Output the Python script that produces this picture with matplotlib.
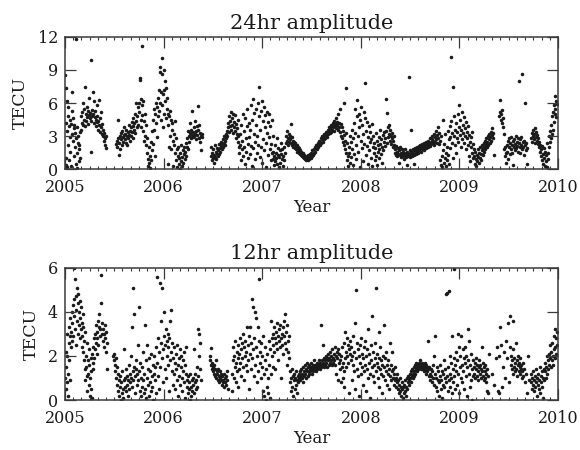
import matplotlib
matplotlib.use("Agg")
import matplotlib.pyplot as plt
from matplotlib.ticker import MultipleLocator

# 24hr amplitude (TECU) vs decimal year
t24 = [
    2005.003, 2005.006, 2005.008, 2005.012, 2005.015, 2005.018, 2005.022, 2005.025, 2005.028, 2005.032,
    2005.035, 2005.04, 2005.043, 2005.047, 2005.05, 2005.055, 2005.06, 2005.064, 2005.068, 2005.072,
    2005.076, 2005.08, 2005.084, 2005.088, 2005.092, 2005.095, 2005.1, 2005.104, 2005.108, 2005.11,
    2005.114, 2005.118, 2005.122, 2005.126, 2005.13, 2005.134, 2005.138, 2005.142, 2005.146, 2005.15,
    2005.154,
    2005.16, 2005.165, 2005.17, 2005.175, 2005.18, 2005.185, 2005.19, 2005.195, 2005.2, 2005.205,
    2005.21, 2005.215, 2005.22, 2005.225, 2005.23, 2005.235, 2005.24, 2005.245, 2005.25, 2005.255,
    2005.26, 2005.262, 2005.265, 2005.27, 2005.275, 2005.28, 2005.285, 2005.29, 2005.295, 2005.3,
    2005.305, 2005.31, 2005.315, 2005.32, 2005.325, 2005.33, 2005.335, 2005.34, 2005.345, 2005.35,
    2005.355, 2005.36, 2005.365, 2005.37, 2005.375, 2005.38, 2005.385, 2005.39, 2005.395, 2005.4,
    2005.405, 2005.41, 2005.415, 2005.42,
    2005.52, 2005.525, 2005.53, 2005.535, 2005.54, 2005.545, 2005.55, 2005.555, 2005.56, 2005.565,
    2005.57, 2005.575, 2005.58, 2005.585, 2005.59, 2005.595, 2005.6, 2005.605, 2005.61, 2005.615,
    2005.62, 2005.625, 2005.63, 2005.635, 2005.64, 2005.645, 2005.65, 2005.655, 2005.66, 2005.665,
    2005.67, 2005.675, 2005.68, 2005.685, 2005.69, 2005.695, 2005.7, 2005.705, 2005.71, 2005.715,
    2005.72, 2005.725, 2005.73, 2005.735, 2005.74, 2005.745,
    2005.75, 2005.755, 2005.76, 2005.763, 2005.767, 2005.77, 2005.775, 2005.777, 2005.78, 2005.785,
    2005.79, 2005.795, 2005.8, 2005.805, 2005.81, 2005.815, 2005.82, 2005.825, 2005.83, 2005.835,
    2005.84, 2005.845, 2005.85, 2005.855, 2005.86, 2005.865, 2005.87, 2005.875, 2005.88, 2005.885,
    2005.89, 2005.895, 2005.9, 2005.905, 2005.91, 2005.915, 2005.92, 2005.925, 2005.93, 2005.935,
    2005.94, 2005.945, 2005.95, 2005.955, 2005.96, 2005.963, 2005.967, 2005.97, 2005.975, 2005.98,
    2005.983, 2005.987, 2005.99, 2005.995, 2006.0, 2006.003, 2006.007, 2006.01, 2006.015, 2006.02,
    2006.025, 2006.03, 2006.035, 2006.04, 2006.045, 2006.05, 2006.055, 2006.06, 2006.065, 2006.07,
    2006.075, 2006.08, 2006.085, 2006.09, 2006.095, 2006.1, 2006.105, 2006.11, 2006.115, 2006.12,
    2006.125,
    2006.13, 2006.135, 2006.14, 2006.145, 2006.15, 2006.155, 2006.16, 2006.165, 2006.17, 2006.175,
    2006.18, 2006.185, 2006.19, 2006.195, 2006.2, 2006.205, 2006.21, 2006.215, 2006.22, 2006.225,
    2006.23, 2006.235, 2006.24, 2006.245, 2006.25, 2006.255, 2006.26, 2006.265, 2006.27, 2006.275,
    2006.28, 2006.285, 2006.29, 2006.295, 2006.3, 2006.305, 2006.31, 2006.315, 2006.32, 2006.325,
    2006.33, 2006.335, 2006.34, 2006.345, 2006.35, 2006.355, 2006.36, 2006.365, 2006.37, 2006.375,
    2006.38, 2006.385, 2006.39,
    2006.48, 2006.485, 2006.49, 2006.495, 2006.5, 2006.505, 2006.51, 2006.515, 2006.52, 2006.525,
    2006.53, 2006.535, 2006.54, 2006.545, 2006.55, 2006.555, 2006.56, 2006.565, 2006.57, 2006.575,
    2006.58, 2006.585, 2006.59, 2006.595, 2006.6, 2006.605, 2006.61, 2006.615, 2006.62, 2006.625,
    2006.63, 2006.635, 2006.64, 2006.645, 2006.65,
    2006.655, 2006.66, 2006.665, 2006.67, 2006.675, 2006.68, 2006.685, 2006.69, 2006.695, 2006.7,
    2006.705, 2006.71, 2006.715, 2006.72, 2006.725, 2006.73, 2006.735, 2006.74, 2006.745, 2006.75,
    2006.755, 2006.76, 2006.765,
    2006.77, 2006.775, 2006.78, 2006.785, 2006.79, 2006.795, 2006.8, 2006.805, 2006.81, 2006.815,
    2006.82, 2006.825, 2006.83, 2006.835, 2006.84, 2006.845, 2006.85, 2006.855, 2006.86, 2006.865,
    2006.87, 2006.875, 2006.88, 2006.885, 2006.89, 2006.895, 2006.9, 2006.905, 2006.91, 2006.915,
    2006.92, 2006.925, 2006.93, 2006.935, 2006.94, 2006.945, 2006.95, 2006.955, 2006.96, 2006.965,
    2006.97, 2006.975, 2006.98, 2006.985, 2006.99, 2006.995, 2007.0, 2007.005, 2007.01, 2007.015,
    2007.02, 2007.025, 2007.03, 2007.035, 2007.04, 2007.045, 2007.05, 2007.055, 2007.06, 2007.065,
    2007.07, 2007.075, 2007.08, 2007.085, 2007.09, 2007.095, 2007.1, 2007.105,
    2007.11, 2007.115, 2007.12, 2007.125, 2007.13, 2007.135, 2007.14, 2007.145, 2007.15, 2007.155,
    2007.16, 2007.165, 2007.17, 2007.175, 2007.18, 2007.185, 2007.19, 2007.195, 2007.2, 2007.205,
    2007.21, 2007.215, 2007.22, 2007.225, 2007.23,
    2007.24, 2007.245, 2007.25, 2007.255, 2007.26, 2007.265, 2007.27, 2007.275, 2007.28, 2007.285,
    2007.29, 2007.295, 2007.3, 2007.305, 2007.31, 2007.315, 2007.32, 2007.325, 2007.33, 2007.335,
    2007.34, 2007.345, 2007.35, 2007.355, 2007.36, 2007.365, 2007.37, 2007.375, 2007.38, 2007.385,
    2007.39, 2007.395, 2007.4, 2007.405, 2007.41, 2007.415, 2007.42, 2007.425, 2007.43, 2007.435,
    2007.44, 2007.445, 2007.45, 2007.455, 2007.46, 2007.465, 2007.47, 2007.475, 2007.48, 2007.485,
    2007.49,
    2007.495, 2007.5, 2007.505, 2007.51, 2007.515, 2007.52, 2007.525, 2007.53, 2007.535, 2007.54,
    2007.545, 2007.55, 2007.555, 2007.56, 2007.565, 2007.57, 2007.575, 2007.58, 2007.585, 2007.59,
    2007.595, 2007.6, 2007.605, 2007.61, 2007.615, 2007.62, 2007.625, 2007.63, 2007.635, 2007.64,
    2007.645, 2007.65, 2007.655, 2007.66, 2007.665, 2007.67, 2007.675, 2007.68, 2007.685, 2007.69,
    2007.695, 2007.7, 2007.705, 2007.71, 2007.715, 2007.72, 2007.725, 2007.73, 2007.735, 2007.74,
    2007.745, 2007.75, 2007.755, 2007.76, 2007.765, 2007.77, 2007.775, 2007.78, 2007.785, 2007.79,
    2007.795, 2007.8, 2007.805, 2007.81, 2007.815, 2007.82, 2007.825, 2007.83, 2007.835, 2007.84,
    2007.845, 2007.85, 2007.852,
    2007.855, 2007.86, 2007.865, 2007.87, 2007.875, 2007.88, 2007.885, 2007.89, 2007.895, 2007.9,
    2007.905, 2007.91, 2007.915, 2007.92, 2007.925, 2007.93, 2007.935, 2007.94, 2007.945, 2007.95,
    2007.955, 2007.96, 2007.965, 2007.97, 2007.975, 2007.98, 2007.985, 2007.99, 2007.995, 2008.0,
    2008.005, 2008.01, 2008.015, 2008.02, 2008.025, 2008.03, 2008.035, 2008.04, 2008.045, 2008.05,
    2008.055, 2008.06, 2008.065, 2008.07, 2008.075, 2008.08, 2008.085, 2008.09, 2008.095, 2008.1,
    2008.105, 2008.11, 2008.115, 2008.12, 2008.125, 2008.13, 2008.135, 2008.14, 2008.145, 2008.15,
    2008.155, 2008.16, 2008.165, 2008.17, 2008.175, 2008.18, 2008.185, 2008.19, 2008.195, 2008.2,
    2008.205, 2008.21, 2008.215, 2008.22, 2008.225, 2008.23, 2008.235, 2008.24, 2008.245, 2008.25,
    2008.255, 2008.26, 2008.265, 2008.27, 2008.275, 2008.28, 2008.285, 2008.29, 2008.295, 2008.3,
    2008.305, 2008.31, 2008.315, 2008.32, 2008.325, 2008.33, 2008.335, 2008.34, 2008.345,
    2008.35, 2008.355, 2008.36, 2008.365, 2008.37, 2008.375, 2008.38, 2008.385, 2008.39, 2008.395,
    2008.4, 2008.405, 2008.41, 2008.415, 2008.42, 2008.425, 2008.43, 2008.435, 2008.44, 2008.445,
    2008.45, 2008.455, 2008.46, 2008.465, 2008.47, 2008.475, 2008.48, 2008.485, 2008.49, 2008.495,
    2008.5, 2008.505, 2008.51, 2008.515, 2008.52, 2008.525, 2008.53, 2008.535, 2008.54, 2008.545,
    2008.55, 2008.555, 2008.56, 2008.565, 2008.57, 2008.575, 2008.58, 2008.585, 2008.59, 2008.595,
    2008.6, 2008.605, 2008.61, 2008.615, 2008.62, 2008.625, 2008.63, 2008.635, 2008.64, 2008.645,
    2008.65, 2008.655, 2008.66, 2008.665, 2008.67, 2008.675, 2008.68, 2008.685, 2008.69, 2008.695,
    2008.7, 2008.705, 2008.71, 2008.715, 2008.72, 2008.725, 2008.73, 2008.735, 2008.74, 2008.745,
    2008.75, 2008.755, 2008.76, 2008.765, 2008.77, 2008.775, 2008.78, 2008.785, 2008.79, 2008.795,
    2008.8, 2008.805, 2008.81, 2008.815, 2008.82, 2008.825, 2008.83, 2008.835, 2008.84, 2008.845,
    2008.85, 2008.855, 2008.86, 2008.865, 2008.87, 2008.875, 2008.88, 2008.885, 2008.89, 2008.895,
    2008.9, 2008.905, 2008.91, 2008.915, 2008.92, 2008.925, 2008.93, 2008.935, 2008.94, 2008.945,
    2008.95, 2008.955, 2008.96, 2008.965, 2008.97, 2008.975, 2008.98, 2008.985, 2008.99, 2008.995,
    2009.0, 2009.005, 2009.01, 2009.015, 2009.02, 2009.025, 2009.03, 2009.035, 2009.04, 2009.045,
    2009.05, 2009.055, 2009.06, 2009.065, 2009.07, 2009.075, 2009.08, 2009.085, 2009.09, 2009.095,
    2009.1, 2009.105, 2009.11, 2009.115, 2009.12, 2009.125, 2009.13, 2009.135, 2009.14, 2009.145,
    2009.15, 2009.155, 2009.16, 2009.165, 2009.17, 2009.175, 2009.18, 2009.185, 2009.19, 2009.195,
    2009.2, 2009.205, 2009.21, 2009.215, 2009.22, 2009.225, 2009.23, 2009.235, 2009.24, 2009.245,
    2009.25, 2009.255, 2009.26, 2009.265, 2009.27, 2009.275, 2009.28, 2009.285, 2009.29, 2009.295,
    2009.3, 2009.305, 2009.31, 2009.315, 2009.32, 2009.325, 2009.33, 2009.335, 2009.34, 2009.345,
    2009.35,
    2009.4, 2009.41, 2009.415, 2009.42, 2009.425, 2009.43, 2009.435, 2009.44, 2009.445, 2009.45,
    2009.455, 2009.46, 2009.465, 2009.47, 2009.475,
    2009.48, 2009.485, 2009.49, 2009.495, 2009.5, 2009.505, 2009.51, 2009.515, 2009.52, 2009.525,
    2009.53, 2009.535, 2009.54, 2009.545, 2009.55, 2009.555, 2009.56, 2009.565, 2009.57, 2009.575,
    2009.58, 2009.585, 2009.59, 2009.595, 2009.6, 2009.605, 2009.61, 2009.615, 2009.62, 2009.625,
    2009.63, 2009.635, 2009.64, 2009.645, 2009.65, 2009.655, 2009.66, 2009.665, 2009.67, 2009.675,
    2009.68, 2009.685, 2009.69,
    2009.73, 2009.735, 2009.74, 2009.745, 2009.75, 2009.755, 2009.76, 2009.765, 2009.77, 2009.775,
    2009.78, 2009.785, 2009.79, 2009.795, 2009.8, 2009.805, 2009.81, 2009.815,
    2009.82, 2009.825, 2009.83, 2009.835, 2009.84, 2009.845, 2009.85, 2009.855, 2009.86, 2009.865,
    2009.87, 2009.875, 2009.88, 2009.885, 2009.89, 2009.895, 2009.9, 2009.905, 2009.91, 2009.915,
    2009.92, 2009.925, 2009.93, 2009.935, 2009.94, 2009.945, 2009.95, 2009.955, 2009.96, 2009.965,
    2009.97, 2009.975, 2009.98, 2009.985, 2009.99,
]
a24 = [
    8.5, 7.4, 0.4, 4.2, 1.0, 6.2, 3.5, 0.2, 4.8, 2.2,
    5.6, 0.8, 3.9, 1.6, 4.5, 2.9, 0.3, 4.1, 3.2, 7.0,
    5.3, 2.6, 4.6, 1.2, 3.7, 4.0, 2.0, 3.3, 11.8, 0.5,
    2.8, 3.8, 1.5, 0.1, 2.4, 3.0, 1.8, 0.7, 2.2, 3.4,
    1.0,
    3.6, 4.8, 4.2, 5.2, 4.0, 6.0, 4.5, 5.5, 3.9, 7.5,
    4.4, 5.0, 4.7, 5.6, 4.1, 5.3, 4.9, 6.5, 4.6, 5.1,
    9.9, 1.6, 4.4, 5.4, 4.8, 7.0, 5.0, 4.2, 6.2, 4.7,
    5.3, 4.5, 3.9, 5.8, 4.3, 4.8, 3.6, 4.4, 6.3, 4.0,
    3.4, 4.6, 3.8, 5.2, 3.2, 4.1, 3.0, 3.6, 2.6, 3.3,
    2.8, 2.2, 3.0, 1.9,
    2.3, 2.6, 2.0, 4.5, 2.8, 1.3, 2.4, 3.0, 1.8, 2.7,
    3.3, 2.2, 3.5, 2.9, 2.5, 3.1, 3.8, 2.7, 3.2, 2.4,
    3.6, 3.0, 2.2, 3.4, 2.8, 4.0, 3.1, 2.6, 3.5, 3.8,
    3.0, 4.3, 3.4, 2.8, 3.9, 4.6, 3.6, 4.2, 5.0, 3.3,
    4.4, 6.0, 3.8, 4.8, 5.6, 4.0,
    5.2, 6.0, 8.3, 8.1, 4.5, 6.4, 3.8, 11.2, 5.8, 4.9,
    6.2, 3.5, 4.4, 2.6, 5.0, 3.0, 2.2, 4.0, 1.5, 2.8,
    0.9, 0.3, 2.0, 0.6, 1.2, 0.1, 2.5, 0.8, 3.5, 1.7,
    4.5, 2.3, 5.5, 3.6, 5.0, 1.2, 6.0, 4.2, 5.6, 2.9,
    6.5, 4.8, 7.2, 5.3, 8.8, 6.0, 9.3, 4.5, 7.0, 10.1,
    5.8, 8.6, 6.8, 3.8, 9.0, 7.2, 5.0, 8.0, 6.2, 7.4,
    4.6, 5.5, 6.5, 0.5, 5.0, 4.0, 4.8, 2.0, 5.3, 3.0,
    4.5, 1.8, 3.6, 4.2, 2.6, 0.3, 3.2, 2.2, 4.4, 1.5,
    2.8,
    0.8, 1.8, 0.2, 1.2, 2.0, 0.5, 1.0, 0.0, 1.5, 0.7,
    2.2, 0.3, 1.1, 1.7, 0.6, 1.4, 2.0, 0.9, 1.6, 2.4,
    1.2, 2.8, 2.0, 3.5, 1.8, 3.0, 2.5, 4.2, 3.3, 2.8,
    3.6, 3.1, 5.3, 2.9, 3.4, 3.8, 3.0, 4.4, 3.2, 2.7,
    3.5, 3.9, 3.1, 5.7, 3.6, 2.8, 4.0, 3.3, 2.5, 3.0,
    1.7, 3.2, 2.9,
    1.2, 2.0, 0.8, 1.5, 1.0, 1.8, 0.6, 1.3, 2.2, 1.1,
    1.6, 0.9, 1.4, 1.9, 1.2, 1.7, 2.3, 1.4, 1.9, 1.6,
    2.1, 2.5, 1.8, 2.3, 2.0, 2.7, 2.4, 3.0, 2.6, 2.2,
    3.2, 2.8, 3.5, 3.0, 3.8,
    4.2, 3.4, 4.8, 3.9, 4.4, 5.2, 3.6, 4.6, 4.0, 5.0,
    3.3, 4.3, 3.8, 4.9, 3.5, 4.1, 2.8, 3.7, 3.2, 4.5,
    2.5, 3.0, 2.0,
    1.5, 3.2, 2.2, 0.8, 4.0, 1.8, 2.6, 5.0, 1.2, 3.5,
    2.0, 4.6, 0.5, 2.8, 1.6, 3.9, 5.5, 2.3, 1.0, 4.2,
    2.9, 1.4, 3.6, 5.8, 2.1, 0.3, 4.5, 6.4, 1.9, 3.2,
    5.1, 2.5, 0.9, 4.0, 5.5, 1.5, 3.0, 6.0, 2.2, 7.5,
    4.8, 1.1, 3.6, 5.3, 2.0, 6.2, 0.6, 4.4, 2.7, 5.6,
    1.7, 3.8, 4.9, 0.2, 2.4, 5.2, 3.3, 1.3, 4.3, 2.9,
    5.0, 1.8, 3.9, 0.8, 2.3, 4.5, 1.5, 3.0,
    0.9, 1.6, 0.4, 1.2, 2.2, 0.7, 1.5, 1.0, 2.8, 0.5,
    1.3, 1.9, 0.2, 1.1, 1.7, 0.6, 2.4, 1.4, 0.9, 1.8,
    0.3, 1.2, 2.0, 0.8, 1.5,
    2.4, 3.0, 2.6, 3.5, 2.8, 2.2, 3.2, 2.5, 3.0, 2.7,
    4.1, 2.4, 2.9, 2.2, 2.6, 2.0, 2.5, 2.3, 1.9, 2.4,
    2.1, 1.8, 2.2, 1.6, 2.0, 1.7, 1.5, 1.9, 1.4, 1.7,
    1.3, 1.6, 1.2, 1.4, 1.1, 1.5, 1.0, 1.3, 0.9, 1.2,
    1.0, 0.8, 1.1, 0.9, 1.3, 0.8, 1.0, 1.2, 0.9, 1.1,
    1.4,
    1.0, 1.5, 1.2, 1.7, 1.4, 1.3, 1.8, 1.5, 2.0, 1.6,
    1.9, 2.2, 1.8, 2.1, 2.4, 2.0, 2.3, 2.6, 2.2, 2.5,
    2.8, 2.4, 2.7, 3.0, 2.5, 2.9, 3.2, 2.7, 3.1, 2.8,
    3.4, 3.0, 3.3, 2.9, 3.6, 3.2, 3.5, 3.8, 3.3, 3.7,
    4.0, 3.4, 3.9, 3.6, 4.2, 3.8, 4.4, 3.5, 4.1, 3.9,
    4.6, 3.7, 4.3, 4.0, 5.0, 3.6, 4.2, 3.8, 5.5, 3.4,
    4.1, 3.0, 3.8, 2.8, 3.5, 2.5, 6.0, 2.2, 3.1, 1.8,
    2.6, 1.5, 7.4,
    3.3, 0.8, 2.4, 1.2, 0.3, 2.0, 1.5, 3.0, 0.6, 2.5,
    1.1, 3.6, 1.8, 0.4, 2.8, 4.2, 1.4, 3.3, 5.5, 2.2,
    0.9, 4.8, 6.3, 3.0, 1.6, 5.0, 3.8, 0.2, 4.5, 2.6,
    5.6, 1.9, 4.0, 3.2, 0.7, 5.2, 2.3, 7.8, 4.6, 1.3,
    3.5, 2.1, 4.3, 0.5, 2.9, 3.9, 1.7, 2.5, 3.4, 1.0,
    2.7, 4.1, 0.3, 2.0, 3.0, 1.5, 2.4, 0.8, 1.9, 3.3,
    1.2, 2.6, 0.4, 1.6, 2.2, 1.0, 2.9, 1.8, 3.6, 2.3,
    1.4, 2.7, 0.6, 2.0, 3.1, 1.7, 2.5, 3.4, 2.1, 2.8,
    6.4, 3.5, 5.1, 2.4, 3.8, 2.9, 4.0, 3.2, 2.6, 3.6,
    3.0, 2.3, 2.8, 3.3, 2.0, 2.6, 3.0, 2.2, 1.5,
    1.8, 1.3, 2.1, 1.6, 1.2, 1.9, 1.4, 0.6, 1.7, 1.3,
    2.0, 1.5, 1.1, 1.8, 1.4, 1.2, 1.6, 0.9, 1.5, 1.3,
    1.8, 1.1, 1.4, 0.4, 1.6, 1.2, 1.5, 8.4, 1.3, 1.7,
    1.1, 3.6, 1.5, 1.2, 1.6, 1.4, 1.8, 1.3, 0.5, 1.7,
    1.5, 1.9, 1.4, 1.7, 2.0, 1.6, 1.8, 1.5, 2.1, 1.7,
    1.9, 2.2, 1.6, 2.0, 1.8, 2.3, 1.9, 2.1, 1.7, 2.4,
    2.0, 2.2, 1.9, 2.5, 2.1, 2.3, 2.0, 2.6, 2.2, 2.4,
    2.8, 2.1, 2.5, 2.3, 2.7, 3.0, 2.4, 2.6, 3.2, 2.2,
    2.9, 2.5, 3.5, 2.7, 3.1, 2.4, 3.8, 2.8, 2.3, 3.3,
    0.8, 2.6, 0.4, 3.0, 1.2, 0.2, 4.5, 1.7, 0.6, 2.3,
    1.0, 3.2, 0.3, 1.5, 2.0, 0.8, 3.5, 1.3, 2.7, 0.5,
    3.9, 1.9, 2.9, 4.4, 10.2, 2.4, 3.3, 1.0, 7.5, 3.0,
    4.8, 2.2, 3.6, 1.5, 4.2, 2.8, 3.4, 5.0, 2.5, 3.8,
    5.8, 3.1, 4.5, 2.0, 3.6, 5.2, 2.7, 4.0, 3.3, 4.7,
    2.4, 3.7, 3.0, 4.3, 1.8, 3.4, 2.8, 3.9, 2.2, 1.2,
    3.1, 2.5, 0.7, 2.0, 2.9, 1.5, 3.4, 2.3, 1.0, 1.8,
    1.2, 0.5, 1.6, 0.9, 0.3, 1.3, 0.7, 1.8, 1.1, 0.6,
    1.5, 1.0, 2.0, 1.4, 0.8, 1.7, 2.2, 1.3, 1.9, 2.4,
    1.6, 2.1, 2.6, 1.8, 2.3, 2.8, 2.0, 2.5, 3.0, 2.2,
    2.7, 3.2, 2.4, 2.9, 3.4, 2.6, 3.1, 3.7, 2.8, 3.3,
    1.3,
    4.8, 6.3, 5.2, 4.5, 5.0, 4.2, 5.4, 4.6, 3.8, 3.2,
    1.8, 1.2, 2.0, 0.6, 1.5,
    2.2, 1.6, 2.6, 0.9, 2.0, 2.8, 1.4, 2.4, 1.8, 2.9,
    2.2, 1.5, 2.6, 0.4, 2.0, 2.7, 1.7, 2.3, 3.0, 1.9,
    2.5, 2.1, 2.8, 1.6, 8.0, 2.4, 2.0, 2.7, 1.5, 2.2,
    2.9, 1.8, 8.6, 2.5, 2.0, 1.3, 2.6, 6.0, 2.2, 1.7,
    2.4, 0.5, 1.9,
    2.8, 3.3, 2.5, 3.0, 3.6, 2.7, 3.2, 2.4, 3.7, 2.9,
    3.4, 2.6, 3.1, 2.3, 2.8, 2.0, 2.5, 1.6,
    2.2, 1.2, 1.8, 0.8, 2.1, 1.4, 0.5, 1.9, 1.0, 0.3,
    1.6, 0.7, 1.3, 0.2, 2.4, 0.9, 1.5, 2.0, 3.0, 2.5,
    3.5, 2.8, 4.0, 3.2, 4.8, 3.6, 5.2, 4.3, 5.8, 6.6,
    5.0, 5.5, 6.2, 4.7, 5.9,
]

# 12hr amplitude (TECU) vs decimal year
t12 = [
    2005.003, 2005.006, 2005.01, 2005.013, 2005.016, 2005.02, 2005.024, 2005.028, 2005.032, 2005.036,
    2005.04, 2005.044, 2005.048, 2005.052, 2005.056, 2005.06, 2005.064, 2005.068, 2005.072,
    2005.076, 2005.08, 2005.084, 2005.088, 2005.092, 2005.096, 2005.1, 2005.104, 2005.108, 2005.112,
    2005.116, 2005.12, 2005.124, 2005.128, 2005.132, 2005.136, 2005.14, 2005.144, 2005.148, 2005.152,
    2005.156, 2005.16, 2005.164, 2005.168, 2005.172, 2005.176, 2005.18, 2005.184, 2005.188, 2005.192,
    2005.196,
    2005.2, 2005.204, 2005.208, 2005.212, 2005.216, 2005.22, 2005.224, 2005.228, 2005.232, 2005.236,
    2005.24, 2005.244, 2005.248, 2005.252, 2005.256, 2005.26, 2005.264, 2005.268, 2005.272, 2005.276,
    2005.28, 2005.284, 2005.288, 2005.292, 2005.296,
    2005.3, 2005.305, 2005.31, 2005.315, 2005.32, 2005.325, 2005.33, 2005.335, 2005.34, 2005.345,
    2005.35, 2005.355, 2005.36, 2005.365, 2005.37, 2005.375, 2005.38, 2005.385, 2005.39, 2005.395,
    2005.4, 2005.405, 2005.41, 2005.415, 2005.42, 2005.425, 2005.43,
    2005.49, 2005.495, 2005.5, 2005.505, 2005.51, 2005.515, 2005.52, 2005.525, 2005.53, 2005.535,
    2005.54, 2005.545, 2005.55, 2005.555, 2005.56,
    2005.565, 2005.57, 2005.575, 2005.58, 2005.585, 2005.59, 2005.595, 2005.6, 2005.605, 2005.61,
    2005.615, 2005.62, 2005.625, 2005.63, 2005.635, 2005.64, 2005.645, 2005.65, 2005.655, 2005.66,
    2005.665, 2005.67, 2005.675, 2005.68, 2005.685, 2005.69, 2005.695, 2005.7, 2005.705, 2005.71,
    2005.715, 2005.72, 2005.725, 2005.73, 2005.735, 2005.74, 2005.745, 2005.75, 2005.755, 2005.76,
    2005.765, 2005.77,
    2005.775, 2005.78, 2005.785, 2005.79, 2005.795, 2005.8, 2005.805, 2005.81, 2005.815, 2005.82,
    2005.825, 2005.83, 2005.835, 2005.84, 2005.845, 2005.85, 2005.855, 2005.86, 2005.865, 2005.87,
    2005.875, 2005.88, 2005.885, 2005.89, 2005.895, 2005.9, 2005.905, 2005.91, 2005.915, 2005.92,
    2005.925,
    2005.93, 2005.935, 2005.94, 2005.945, 2005.95, 2005.955, 2005.96, 2005.965, 2005.97, 2005.975,
    2005.98, 2005.985, 2005.99, 2005.995, 2006.0, 2006.005, 2006.01, 2006.015, 2006.02, 2006.025,
    2006.03, 2006.035, 2006.04, 2006.045, 2006.05, 2006.055, 2006.06, 2006.065, 2006.07, 2006.075,
    2006.08, 2006.085, 2006.09, 2006.095, 2006.1,
    2006.105, 2006.11, 2006.115, 2006.12, 2006.125, 2006.13, 2006.135, 2006.14, 2006.145, 2006.15,
    2006.155, 2006.16, 2006.165, 2006.17, 2006.175, 2006.18, 2006.185, 2006.19, 2006.195, 2006.2,
    2006.205, 2006.21, 2006.215, 2006.22, 2006.225, 2006.23, 2006.235,
    2006.24, 2006.245, 2006.25, 2006.255, 2006.26, 2006.265, 2006.27, 2006.275, 2006.28, 2006.285,
    2006.29, 2006.295, 2006.3, 2006.305, 2006.31, 2006.315, 2006.32, 2006.325, 2006.33, 2006.335,
    2006.34, 2006.345, 2006.35, 2006.355, 2006.36, 2006.365, 2006.37, 2006.38,
    2006.47, 2006.475, 2006.48, 2006.485, 2006.49, 2006.495, 2006.5, 2006.505, 2006.51, 2006.515,
    2006.52, 2006.525, 2006.53, 2006.535, 2006.54, 2006.545, 2006.55, 2006.555, 2006.56, 2006.565,
    2006.57, 2006.575, 2006.58, 2006.585, 2006.59, 2006.595, 2006.6, 2006.605, 2006.61, 2006.615,
    2006.62, 2006.625, 2006.63, 2006.635, 2006.64, 2006.645, 2006.65,
    2006.69, 2006.695, 2006.7, 2006.705, 2006.71, 2006.715, 2006.72, 2006.725, 2006.73, 2006.735,
    2006.74, 2006.745, 2006.75, 2006.755, 2006.76, 2006.765, 2006.77, 2006.775, 2006.78, 2006.785,
    2006.79, 2006.795, 2006.8, 2006.805, 2006.81, 2006.815, 2006.82, 2006.825, 2006.83, 2006.835,
    2006.84, 2006.845, 2006.85, 2006.855, 2006.86, 2006.865, 2006.87, 2006.875, 2006.88, 2006.885,
    2006.89, 2006.895, 2006.9, 2006.905, 2006.91, 2006.915, 2006.92, 2006.925, 2006.93, 2006.935,
    2006.94, 2006.945, 2006.95, 2006.955, 2006.96, 2006.965, 2006.97, 2006.975, 2006.98,
    2006.985, 2006.99, 2006.995, 2007.0, 2007.005, 2007.01, 2007.015, 2007.02, 2007.025, 2007.03,
    2007.035, 2007.04, 2007.045, 2007.05, 2007.055, 2007.06, 2007.065, 2007.07, 2007.075, 2007.08,
    2007.085, 2007.09, 2007.095, 2007.1, 2007.105,
    2007.11, 2007.115, 2007.12, 2007.125, 2007.13, 2007.135, 2007.14, 2007.145, 2007.15, 2007.155,
    2007.16, 2007.165, 2007.17, 2007.175, 2007.18, 2007.185, 2007.19, 2007.195, 2007.2, 2007.205,
    2007.21, 2007.215, 2007.22, 2007.225, 2007.23, 2007.235, 2007.24, 2007.245, 2007.25, 2007.255,
    2007.26, 2007.265, 2007.27, 2007.275,
    2007.28, 2007.285, 2007.29, 2007.295, 2007.3, 2007.305, 2007.31, 2007.315, 2007.32, 2007.325,
    2007.33, 2007.335, 2007.34, 2007.345, 2007.35, 2007.355, 2007.36, 2007.365, 2007.37, 2007.375,
    2007.38, 2007.385, 2007.39, 2007.395, 2007.4, 2007.405, 2007.41, 2007.415, 2007.42, 2007.425,
    2007.43, 2007.435, 2007.44, 2007.445, 2007.45, 2007.455, 2007.46, 2007.465, 2007.47, 2007.475,
    2007.48, 2007.485, 2007.49, 2007.495, 2007.5, 2007.505, 2007.51, 2007.515, 2007.52, 2007.525,
    2007.53, 2007.535, 2007.54, 2007.545, 2007.55, 2007.555, 2007.56, 2007.565, 2007.57, 2007.575,
    2007.58, 2007.585, 2007.59, 2007.595, 2007.6, 2007.605, 2007.61, 2007.615, 2007.62, 2007.625,
    2007.63, 2007.635, 2007.64, 2007.645, 2007.65, 2007.655, 2007.66, 2007.665, 2007.67, 2007.675,
    2007.68, 2007.685, 2007.69, 2007.695, 2007.7, 2007.705, 2007.71, 2007.715, 2007.72,
    2007.725, 2007.73, 2007.735, 2007.74, 2007.745, 2007.75, 2007.755, 2007.76, 2007.765, 2007.77,
    2007.775, 2007.78, 2007.785, 2007.79, 2007.795, 2007.8, 2007.805, 2007.81, 2007.815, 2007.82,
    2007.825, 2007.83,
    2007.835, 2007.84, 2007.845, 2007.85, 2007.855, 2007.86, 2007.865, 2007.87, 2007.875, 2007.88,
    2007.885, 2007.89, 2007.895, 2007.9, 2007.905, 2007.91, 2007.915, 2007.92, 2007.925, 2007.93,
    2007.935, 2007.94, 2007.945, 2007.95, 2007.955, 2007.96, 2007.965, 2007.97, 2007.975, 2007.98,
    2007.985, 2007.99, 2007.995, 2008.0, 2008.005, 2008.01, 2008.015, 2008.02, 2008.025, 2008.03,
    2008.035, 2008.04, 2008.045, 2008.05, 2008.055, 2008.06, 2008.065, 2008.07, 2008.075, 2008.08,
    2008.085, 2008.09, 2008.095, 2008.1, 2008.105, 2008.11, 2008.115, 2008.12, 2008.125, 2008.13,
    2008.135, 2008.14, 2008.145, 2008.15, 2008.155, 2008.16, 2008.165, 2008.17, 2008.175, 2008.18,
    2008.185, 2008.19, 2008.195, 2008.2, 2008.205, 2008.21, 2008.215, 2008.22, 2008.225, 2008.23,
    2008.235, 2008.24, 2008.245, 2008.25, 2008.255, 2008.26, 2008.265, 2008.27, 2008.275, 2008.28,
    2008.285, 2008.29, 2008.295,
    2008.3, 2008.305, 2008.31, 2008.315, 2008.32, 2008.325, 2008.33, 2008.335, 2008.34, 2008.345,
    2008.35, 2008.355, 2008.36, 2008.365, 2008.37, 2008.375, 2008.38, 2008.385, 2008.39, 2008.395,
    2008.4, 2008.405, 2008.41, 2008.415, 2008.42, 2008.425, 2008.43, 2008.435, 2008.44, 2008.445,
    2008.45, 2008.455, 2008.46, 2008.465, 2008.47, 2008.475, 2008.48, 2008.485,
    2008.49, 2008.495, 2008.5, 2008.505, 2008.51, 2008.515, 2008.52, 2008.525, 2008.53, 2008.535,
    2008.54, 2008.545, 2008.55, 2008.555, 2008.56, 2008.565, 2008.57, 2008.575, 2008.58, 2008.585,
    2008.59, 2008.595, 2008.6, 2008.605, 2008.61, 2008.615, 2008.62, 2008.625, 2008.63, 2008.635,
    2008.64, 2008.645, 2008.65, 2008.655, 2008.66, 2008.665, 2008.67, 2008.675, 2008.68, 2008.685,
    2008.69, 2008.695, 2008.7, 2008.705, 2008.71, 2008.715, 2008.72, 2008.725, 2008.73, 2008.735,
    2008.74, 2008.745, 2008.75,
    2008.755, 2008.76, 2008.765, 2008.77, 2008.775, 2008.78, 2008.785, 2008.79, 2008.795, 2008.8,
    2008.805, 2008.81, 2008.815, 2008.82, 2008.825, 2008.83, 2008.835, 2008.84, 2008.845, 2008.85,
    2008.855, 2008.86, 2008.865, 2008.87, 2008.875, 2008.88, 2008.885, 2008.89, 2008.895, 2008.9,
    2008.905, 2008.91, 2008.915, 2008.92, 2008.925, 2008.93, 2008.935, 2008.94, 2008.942, 2008.945,
    2008.95, 2008.955, 2008.96,
    2008.965, 2008.97, 2008.975, 2008.98, 2008.985, 2008.99, 2008.995, 2009.0, 2009.005, 2009.01,
    2009.015, 2009.02, 2009.025, 2009.03, 2009.035, 2009.04, 2009.045, 2009.05, 2009.055, 2009.06,
    2009.065, 2009.07, 2009.075, 2009.08, 2009.085, 2009.09, 2009.095, 2009.1, 2009.105, 2009.11,
    2009.115, 2009.12, 2009.125, 2009.13, 2009.135, 2009.14,
    2009.145, 2009.15, 2009.155, 2009.16, 2009.165, 2009.17, 2009.175, 2009.18, 2009.185, 2009.19,
    2009.195, 2009.2, 2009.205, 2009.21, 2009.215, 2009.22, 2009.225, 2009.23, 2009.235, 2009.24,
    2009.245, 2009.25, 2009.255, 2009.26, 2009.265, 2009.27, 2009.275, 2009.28, 2009.285, 2009.29,
    2009.295, 2009.3,
    2009.33, 2009.35, 2009.37, 2009.38, 2009.39, 2009.4, 2009.405, 2009.41, 2009.42, 2009.43,
    2009.44, 2009.45, 2009.46, 2009.47, 2009.48, 2009.49, 2009.5, 2009.51, 2009.515,
    2009.52, 2009.525, 2009.53, 2009.535, 2009.54, 2009.545, 2009.548, 2009.55, 2009.555, 2009.56,
    2009.565, 2009.57, 2009.575, 2009.58, 2009.585, 2009.59, 2009.595, 2009.6, 2009.605, 2009.61,
    2009.615, 2009.62, 2009.625, 2009.63, 2009.635, 2009.64, 2009.645, 2009.65, 2009.66, 2009.67,
    2009.68, 2009.69, 2009.7, 2009.71,
    2009.725, 2009.73, 2009.735, 2009.74, 2009.745, 2009.75, 2009.755, 2009.76, 2009.765, 2009.77,
    2009.775, 2009.78, 2009.785, 2009.79, 2009.795, 2009.8, 2009.805, 2009.81, 2009.815, 2009.82,
    2009.825, 2009.83, 2009.835, 2009.84, 2009.845, 2009.85, 2009.855, 2009.86,
    2009.865, 2009.87, 2009.875, 2009.88, 2009.885, 2009.89, 2009.895, 2009.9, 2009.905, 2009.91,
    2009.915, 2009.92, 2009.925, 2009.93, 2009.935, 2009.94, 2009.945, 2009.95, 2009.955, 2009.96,
    2009.965, 2009.97, 2009.975, 2009.98, 2009.985, 2009.99, 2009.995,
]
a12 = [
    1.0, 2.2, 0.5, 1.5, 3.0, 0.8, 2.0, 0.2, 1.2, 2.6,
    3.3, 1.8, 2.9, 0.9, 3.7, 2.4, 3.1, 4.0, 2.7,
    3.5, 4.3, 2.9, 6.0, 3.8, 4.6, 5.5, 3.2, 4.1, 4.7,
    2.5, 5.1, 3.6, 4.4, 4.8, 3.0, 4.0, 3.4, 4.5, 2.8,
    3.7, 3.2, 4.2, 2.4, 3.5, 2.9, 3.9, 2.2, 3.3, 1.8,
    2.7,
    1.4, 3.1, 0.9, 2.0, 1.5, 2.6, 1.1, 0.4, 1.8, 1.2,
    2.3, 0.7, 1.6, 0.2, 1.0, 1.9, 0.5, 1.3, 2.1, 0.1,
    1.7, 2.4, 1.4, 2.8, 1.9,
    2.3, 3.0, 2.6, 3.4, 2.1, 3.1, 2.8, 3.6, 2.5, 3.3,
    3.9, 2.9, 3.2, 4.4, 5.65, 3.0, 3.5, 2.7, 3.2, 2.4,
    3.0, 3.4, 2.8, 2.2, 3.1, 2.6, 1.4,
    2.0, 1.8, 2.1, 1.6, 1.3, 1.9, 1.0, 1.5, 0.7, 1.2,
    0.4, 0.9, 0.2, 1.1, 0.6,
    0.0, 0.8, 0.3, 1.3, 0.5, 0.1, 0.9, 2.3, 0.6, 1.0,
    0.4, 1.4, 0.7, 1.1, 0.2, 0.9, 1.6, 0.5, 1.2, 0.8,
    2.0, 1.0, 3.3, 0.6, 1.3, 5.1, 0.9, 1.5, 3.9, 1.1,
    0.3, 1.4, 1.8, 0.7, 1.2, 2.5, 0.9, 4.2, 1.3, 0.4,
    1.7, 1.0,
    0.2, 1.5, 0.6, 2.2, 0.9, 0.3, 1.2, 3.4, 0.5, 1.8,
    0.1, 1.0, 2.5, 0.7, 1.4, 0.2, 1.9, 0.8, 1.3, 0.4,
    2.1, 1.1, 0.6, 1.6, 0.0, 1.2, 2.0, 0.9, 1.5, 0.3,
    2.4,
    5.6, 1.7, 2.8, 1.1, 2.2, 0.5, 5.3, 1.5, 2.6, 3.6,
    1.9, 5.1, 2.3, 0.8, 4.0, 2.9, 1.4, 2.5, 3.2, 1.0,
    2.7, 2.0, 3.0, 1.6, 2.4, 0.4, 2.8, 3.6, 1.8, 2.2,
    4.1, 1.3, 2.6, 0.7, 1.9,
    2.4, 1.2, 1.7, 0.5, 2.1, 1.4, 0.9, 2.5, 1.6, 0.2,
    1.9, 1.1, 2.3, 0.7, 1.5, 2.0, 1.0, 0.4, 1.8, 1.3,
    2.2, 0.8, 1.6, 0.1, 1.2, 2.4, 0.6,
    0.9, 0.3, 1.1, 0.5, 0.8, 0.0, 1.2, 0.6, 0.2, 0.9,
    0.4, 1.0, 0.7, 2.3, 0.3, 0.8, 1.2, 0.5, 0.9, 1.5,
    0.6, 1.1, 3.2, 3.0, 2.0, 1.4, 2.6, 0.9,
    1.8, 2.0, 1.6, 2.35, 1.4, 1.7, 1.3, 1.5, 1.2, 1.6,
    1.1, 1.4, 1.8, 1.0, 1.3, 1.2, 0.9, 1.4, 1.1, 0.8,
    1.3, 1.0, 0.9, 1.2, 0.7, 1.1, 0.9, 0.8, 1.2, 0.6,
    1.0, 0.8, 1.1, 0.7, 0.9, 1.3, 0.5,
    1.2, 0.4, 1.8, 2.4, 1.0, 2.0, 1.5, 2.7, 0.8, 1.7,
    2.2, 1.3, 2.5, 1.9, 0.6, 2.1, 1.4, 2.8, 1.7, 2.3,
    1.1, 2.6, 1.9, 3.0, 1.5, 2.4, 0.9, 2.0, 2.7, 1.6,
    2.2, 3.3, 1.3, 2.5, 1.8, 2.9, 0.5, 2.1, 3.3, 1.4,
    2.6, 4.6, 1.9, 2.3, 4.2, 1.1, 2.8, 4.0, 1.6, 2.4,
    3.7, 0.8, 2.0, 3.3, 1.3, 2.7, 5.5, 1.7, 2.2,
    1.0, 2.6, 1.5, 2.0, 0.4, 2.9, 1.2, 0.2, 1.8, 2.4,
    0.0, 1.4, 0.6, 2.1, 1.0, 0.3, 2.7, 1.6, 0.1, 2.3,
    1.2, 3.6, 2.0, 2.8, 1.5,
    3.0, 2.5, 3.3, 2.2, 2.8, 1.4, 3.1, 2.6, 3.5, 2.3,
    2.9, 1.8, 3.2, 2.7, 2.4, 3.4, 1.0, 2.8, 3.0, 2.5,
    3.3, 2.1, 2.9, 3.6, 2.6, 3.9, 2.3, 3.1, 1.6, 3.4,
    2.7, 2.2, 2.9, 1.9,
    1.3, 0.8, 1.0, 0.4, 1.4, 0.6, 1.1, 0.2, 0.9, 1.2,
    0.5, 1.0, 0.7, 1.3, 0.9, 0.3, 1.1, 0.8, 1.2, 1.0,
    1.3, 0.9, 1.1, 1.4, 1.0, 1.2, 1.5, 0.8, 1.3, 1.1,
    1.6, 1.2, 1.0, 1.4, 1.3, 1.7, 1.1, 1.5, 1.3, 1.2,
    1.6, 1.4, 1.3, 1.7, 1.5, 1.2, 1.4, 1.6, 1.3, 1.5,
    1.8, 1.4, 1.6, 1.3, 1.5, 1.7, 1.4, 1.6, 1.5, 1.8,
    1.6, 1.4, 1.7, 1.5, 3.4, 1.8, 1.6, 2.5, 1.7, 1.9,
    1.5, 1.8, 1.6, 2.0, 1.7, 1.9, 1.5, 1.8, 2.1, 1.6,
    1.9, 1.7, 2.2, 1.8, 2.0, 1.6, 2.3, 1.9, 1.7,
    2.1, 1.8, 2.4, 1.6, 2.0, 1.2, 2.2, 1.9, 0.9, 2.3,
    1.7, 2.1, 1.4, 1.8, 0.8, 2.0, 1.5, 2.4, 1.0, 1.7,
    0.6, 1.3,
    2.6, 1.9, 3.1, 2.2, 1.5, 2.8, 2.0, 2.5, 1.7, 2.3,
    0.3, 2.1, 2.7, 1.8, 2.4, 0.9, 2.0, 1.6, 2.9, 1.3,
    2.2, 0.5, 3.5, 1.9, 5.0, 2.6, 1.4, 2.3, 1.1, 2.0,
    0.2, 1.7, 2.5, 1.2, 2.8, 1.5, 2.1, 0.7, 1.9, 2.4,
    1.3, 2.7, 1.6, 0.4, 2.0, 1.4, 2.3, 1.0, 3.2, 1.7,
    2.1, 1.2, 0.1, 1.8, 2.5, 1.5, 3.8, 1.1, 2.2, 1.6,
    0.8, 1.9, 2.6, 1.3, 5.1, 1.7, 2.1, 1.0, 1.5, 3.1,
    1.9, 0.6, 1.4, 2.4, 1.2, 1.8, 0.3, 1.6, 2.0, 1.1,
    3.4, 1.5, 0.9, 1.9, 1.3, 2.2, 0.7, 1.6, 1.2, 1.8,
    0.5, 1.4, 2.6,
    1.1, 1.6, 0.9, 1.3, 2.2, 1.0, 1.4, 0.7, 1.2, 0.9,
    1.5, 0.6, 1.0, 0.8, 1.2, 0.5, 0.9, 0.3, 0.7, 1.0,
    0.4, 0.6, 0.2, 0.8, 0.5, 0.1, 0.6, 0.3, 0.7, 0.4,
    0.9, 0.2, 0.6, 1.0, 0.5, 0.8, 1.1, 0.7,
    0.9, 1.2, 1.0, 1.3, 0.8, 1.1, 1.4, 1.0, 1.2, 1.5,
    1.1, 1.3, 1.6, 1.2, 1.4, 1.7, 1.3, 1.5, 1.6, 1.4,
    1.7, 1.5, 1.6, 1.8, 1.4, 1.6, 1.5, 1.7, 1.4, 1.6,
    1.5, 1.3, 1.7, 1.4, 1.6, 1.2, 1.5, 1.3, 2.7, 1.4,
    1.1, 1.5, 1.2, 0.9, 1.4, 1.1, 0.8, 1.3, 1.0, 1.6,
    0.7, 2.0, 2.9,
    1.2, 0.6, 1.0, 1.5, 0.4, 0.9, 1.3, 0.2, 0.8, 1.1,
    1.6, 0.5, 0.9, 1.3, 0.1, 0.7, 1.2, 1.8, 0.6, 1.0,
    1.4, 4.8, 0.8, 1.1, 4.85, 0.4, 1.5, 4.95, 0.9, 2.0,
    1.2, 0.6, 1.7, 1.0, 2.9, 0.3, 1.4, 0.8, 5.95, 1.9,
    1.1, 0.5, 1.6,
    2.2, 1.3, 0.7, 1.8, 3.0, 1.2, 2.4, 0.3, 1.5, 2.0,
    1.0, 2.9, 1.6, 0.8, 2.3, 1.3, 1.9, 0.5, 1.7, 2.4,
    1.1, 2.0, 0.2, 1.5, 1.8, 3.2, 1.2, 2.7, 0.6, 1.6,
    2.1, 0.9, 1.4, 0.0, 1.8, 1.1,
    1.5, 1.2, 1.7, 1.0, 1.4, 1.9, 1.1, 1.6, 1.3, 0.9,
    1.5, 1.8, 1.2, 1.6, 1.0, 1.4, 2.4, 1.3, 1.7, 1.1,
    1.5, 0.9, 1.3, 1.6, 1.0, 1.2, 0.8, 1.4, 0.4, 1.1,
    0.3, 2.1,
    1.2, 0.7, 1.9, 2.4, 0.4, 2.0, 0.3, 3.3, 2.5, 0.6,
    1.5, 2.2, 1.0, 2.7, 1.9, 3.5, 0.8, 2.4, 3.8,
    1.6, 2.0, 1.4, 1.8, 1.2, 2.3, 3.6, 1.5, 1.9, 1.3,
    1.7, 2.6, 1.4, 1.8, 1.1, 1.6, 2.0, 1.3, 1.7, 1.5,
    1.2, 1.9, 1.4, 1.6, 1.0, 1.3, 1.7, 1.1, 1.4, 0.8,
    1.2, 0.3, 2.0, 0.9,
    0.8, 1.2, 0.5, 1.0, 0.7, 1.3, 0.4, 0.9, 1.1, 0.6,
    1.4, 0.8, 0.2, 1.0, 0.7, 1.2, 0.5, 0.9, 1.5, 0.3,
    1.1, 0.8, 1.3, 0.6, 1.0, 0.1, 1.4, 0.9,
    1.3, 1.7, 1.0, 1.5, 2.0, 1.2, 1.8, 1.4, 2.1, 1.6,
    2.5, 1.9, 1.5, 2.2, 1.8, 2.6, 2.0, 1.6, 2.9, 2.3,
    3.2, 1.9, 2.4, 2.8, 2.1, 2.5, 3.1,
]

years = [2005, 2006, 2007, 2008, 2009, 2010]
y24_ticks = [0, 3, 6, 9, 12]
y12_ticks = [0, 2, 4, 6]

INK = "#1a1a1a"
FRAME = "#3a3a3a"

plt.rcParams["font.family"] = ["DejaVu Serif"]

fig = plt.figure(figsize=(5.8, 4.5), dpi=100)
fig.patch.set_facecolor("white")

ax1 = fig.add_axes([0.112, 0.624, 0.850, 0.294])
ax2 = fig.add_axes([0.112, 0.111, 0.850, 0.294])


def style(ax, yticks, ymax, title):
    ax.set_xlim(2005, 2010)
    ax.set_ylim(0, ymax)
    ax.set_xticks(years)
    ax.set_xticklabels([str(y) for y in years])
    ax.xaxis.set_minor_locator(MultipleLocator(1 / 12))
    ax.set_yticks(yticks)
    for sp in ax.spines.values():
        sp.set_color(FRAME)
        sp.set_linewidth(1.1)
    ax.tick_params(axis="both", which="major", direction="in", length=8, width=0.9,
                   top=True, right=True, color=FRAME, labelsize=11.5, labelcolor=INK)
    ax.tick_params(axis="x", which="major", pad=7)
    ax.tick_params(axis="y", which="major", pad=5)
    ax.tick_params(axis="x", which="minor", direction="in", length=2.5, width=0.8,
                   top=True, color=FRAME)
    ax.set_title(title, fontsize=15, color=INK, pad=6)
    ax.set_xlabel("Year", fontsize=12, color=INK, labelpad=2)
    ax.set_ylabel("TECU", fontsize=12.5, color=INK, labelpad=6)


ax1.scatter(t24, a24, s=6.5, color=INK, linewidths=0)
ax2.scatter(t12, a12, s=6.5, color=INK, linewidths=0)
style(ax1, y24_ticks, 12, "24hr amplitude")
style(ax2, y12_ticks, 6, "12hr amplitude")

fig.savefig("out.png", dpi=100, facecolor="white")
